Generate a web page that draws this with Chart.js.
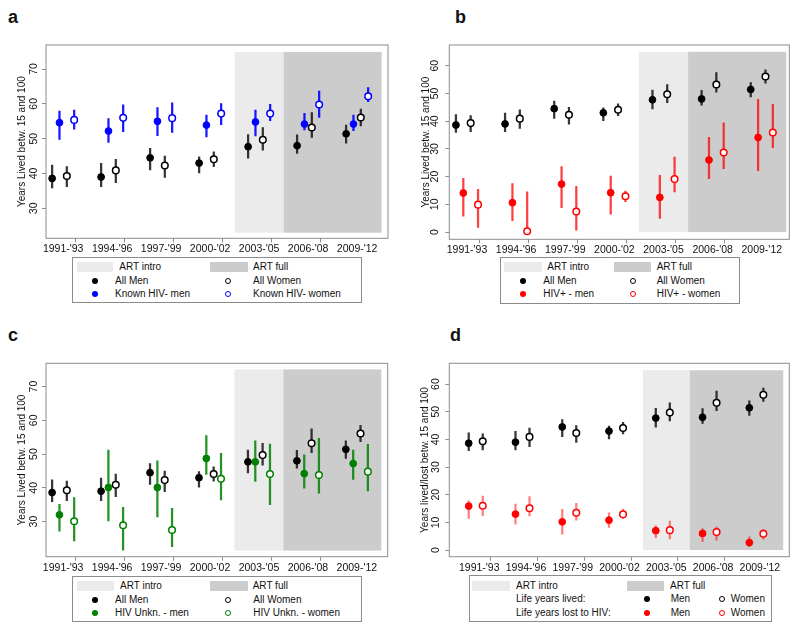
<!DOCTYPE html>
<html><head><meta charset="utf-8">
<script src="https://cdn.jsdelivr.net/npm/chart.js@4/dist/chart.umd.min.js"></script>
<style>
html,body{margin:0;padding:0;background:#fff;}
body{width:800px;height:631px;position:relative;overflow:hidden;font-family:"Liberation Sans",Arial,sans-serif;}
canvas{position:absolute;}
.lbl{position:absolute;font-weight:bold;font-size:18px;line-height:18px;color:#111;}
.leg{position:absolute;border:1px solid #8c8c8c;box-sizing:border-box;}
.lt{position:absolute;font-size:10px;line-height:12px;color:#111;white-space:nowrap;}
.sw{position:absolute;height:10px;}
.mk{position:absolute;border-radius:50%;box-sizing:border-box;}
</style></head><body>
<div class="lbl" style="left:8px;top:8px">a</div>
<div class="lbl" style="left:455px;top:8px">b</div>
<div class="lbl" style="left:8px;top:326px">c</div>
<div class="lbl" style="left:450px;top:326px">d</div>
<script>
// ---------- data ----------
const categories = ["1991-'93", "1994-'96", "1997-'99", "2000-'02", "2003-'05", "2006-'08", "2009-'12"];
const yTicksHigh = [30, 40, 50, 60, 70];
const yTicksLow = [0, 10, 20, 30, 40, 50, 60];
const artIntro = [3.5, 4.5];
const artFull = [4.5, 6.5];

const allMen     = [38.6, 39.0, 44.5, 43.0, 47.7, 48.0, 51.4];
const allMenLo   = [35.9, 36.2, 41.0, 40.2, 44.4, 45.8, 48.7];
const allMenHi   = [42.4, 42.9, 47.2, 44.8, 51.2, 51.1, 53.9];
const allWomen   = [39.3, 40.9, 42.3, 44.1, 49.7, 53.2, 56.1];
const allWomenLo = [36.2, 37.4, 38.9, 42.0, 46.7, 50.4, 53.7];
const allWomenHi = [42.0, 44.1, 45.0, 46.2, 53.2, 57.5, 58.5];

const negMen     = [54.6, 52.2, 55.0, 53.9, 54.8, 54.2, 54.2];
const negMenLo   = [49.8, 48.9, 50.9, 50.5, 50.8, 52.5, 52.3];
const negMenHi   = [57.9, 55.8, 58.9, 56.8, 58.2, 57.3, 56.8];
const negWomen   = [55.4, 56.0, 55.9, 57.2, 57.2, 59.8, 62.2];
const negWomenLo = [52.7, 52.0, 51.8, 54.0, 55.2, 56.1, 60.6];
const negWomenHi = [58.2, 59.7, 60.3, 60.1, 59.9, 63.7, 64.7];

const posMen     = [14.1, 10.6, 17.3, 14.2, 12.5, 26.0, 34.1];
const posMenLo   = [5.7, 4.1, 8.8, 6.5, 4.9, 19.3, 22.1];
const posMenHi   = [19.4, 17.5, 23.6, 20.2, 20.5, 34.2, 47.9];
const posWomen   = [9.9, 0.3, 7.4, 12.9, 19.1, 28.7, 35.9];
const posWomenLo = [1.7, 0.0, 0.7, 11.0, 14.5, 22.9, 30.4];
const posWomenHi = [15.4, 14.5, 16.5, 14.8, 27.0, 39.4, 46.1];

const unkMen     = [32.0, 40.1, 40.1, 48.7, 47.7, 44.2, 47.2];
const unkMenLo   = [27.2, 30.2, 31.4, 44.0, 41.9, 39.9, 42.5];
const unkMenHi   = [35.1, 51.2, 48.0, 55.5, 53.9, 49.8, 51.2];
const unkWomen   = [30.1, 28.9, 27.5, 42.7, 44.1, 43.8, 44.8];
const unkWomenLo = [24.3, 21.5, 22.6, 36.4, 35.0, 38.4, 39.1];
const unkWomenHi = [37.1, 34.2, 33.9, 50.2, 53.0, 54.7, 52.9];

const lostMen     = [15.9, 13.0, 10.2, 10.8, 7.0, 6.0, 2.7];
const lostMenLo   = [11.4, 9.4, 5.7, 8.2, 4.5, 3.0, 1.2];
const lostMenHi   = [17.8, 16.6, 14.7, 13.5, 8.8, 7.8, 4.8];
const lostWomen   = [16.0, 15.1, 13.5, 12.9, 7.2, 6.5, 5.9];
const lostWomenLo = [12.4, 12.3, 10.8, 11.4, 4.0, 3.6, 3.9];
const lostWomenHi = [19.5, 19.3, 16.9, 14.8, 10.5, 8.4, 7.5];

// ---------- styles ----------
const FONT = '"Liberation Sans", Arial, sans-serif';
Chart.defaults.font.family = FONT;
const LIGHT = '#ebebeb', DARK = '#cccccc';
const C = {
  black: '#000000', blue: '#0000ff', red: '#ff0000', green: '#008000',
  eBlack: 'rgba(20,20,20,0.85)', eBlue: 'rgba(0,0,255,0.9)', eRed: 'rgba(255,0,0,0.75)',
  eRedLight: 'rgba(255,0,0,0.5)', eGreen: 'rgba(0,128,0,0.85)'
};
const OFF = [-0.225, -0.075, 0.075, 0.225];

function errBars(lo, hi, off, color) {
  return {
    type: 'bar', order: 2, grouped: false, barThickness: 1.6, maxBarThickness: 1.6,
    backgroundColor: color, borderWidth: 0,
    data: categories.map((c, i) => ({ x: i + off, y: [lo[i], hi[i]] }))
  };
}
function pts(vals, off, color, open) {
  return {
    type: 'scatter', order: 1, showLine: false,
    pointRadius: open ? 3.3 : 3.4,
    pointBorderWidth: open ? 1.5 : 1,
    pointBackgroundColor: open ? '#ffffff' : color,
    pointBorderColor: color,
    data: vals.map((v, i) => ({ x: i + off, y: v }))
  };
}
function isMid(ctx) {
  return !!(ctx && ctx.tick && !Number.isInteger(ctx.tick.value));
}

function panel(o) {
  const cv = document.createElement('canvas');
  cv.width = o.w; cv.height = o.h;
  cv.style.left = o.left + 'px'; cv.style.top = o.top + 'px';
  cv.style.width = o.w + 'px'; cv.style.height = o.h + 'px';
  document.body.appendChild(cv);
  const shade = {
    id: 'shade',
    beforeDatasetsDraw(chart) {
      const { ctx, scales: { x, y } } = chart;
      [[artIntro, LIGHT], [artFull, DARK]].forEach(([r, col]) => {
        const x0 = x.getPixelForValue(r[0]), x1 = x.getPixelForValue(r[1]);
        const y0 = y.getPixelForValue(o.shadeY[1]), y1 = y.getPixelForValue(o.shadeY[0]);
        ctx.save(); ctx.fillStyle = col; ctx.fillRect(x0, y0, x1 - x0, y1 - y0); ctx.restore();
      });
    }
  };
  const frame = {
    id: 'frame',
    afterDraw(chart) {
      const a = chart.chartArea, ctx = chart.ctx;
      ctx.save(); ctx.strokeStyle = '#8c8c8c'; ctx.lineWidth = 1;
      ctx.strokeRect(a.left, a.top, a.right - a.left, a.bottom - a.top); ctx.restore();
    }
  };
  const xVals = [];
  for (let i = 0; i < categories.length; i++) { xVals.push(i); if (i < categories.length - 1) xVals.push(i + 0.5); }
  try {
  new Chart(cv, {
    type: 'scatter',
    data: { datasets: o.datasets },
    plugins: [shade, frame],
    options: {
      responsive: false, animation: false, devicePixelRatio: 1,
      layout: { padding: { left: 0, top: o.area.t, right: o.w - o.area.r, bottom: 0 } },
      plugins: { legend: { display: false }, tooltip: { enabled: false } },
      scales: {
        x: {
          type: 'linear', min: o.xr[0], max: o.xr[1], offset: false,
          afterBuildTicks: s => { s.ticks = xVals.map(v => ({ value: v })); },
          afterFit: s => { s.height = o.h - o.area.b; },
          ticks: {
            autoSkip: false, maxRotation: 0, minRotation: 0, padding: 2,
            font: { size: 10.5, lineHeight: 1 }, color: '#111',
            callback: v => Number.isInteger(v) ? categories[v] : ''
          },
          grid: {
            drawOnChartArea: false, drawTicks: true, tickLength: 4, tickWidth: 1,
            tickColor: ctx => isMid(ctx) ? '#8c8c8c' : 'rgba(0,0,0,0)'
          },
          border: { display: false }
        },
        y: {
          type: 'linear', min: o.yr[0], max: o.yr[1],
          afterBuildTicks: s => { s.ticks = o.yTicks.map(v => ({ value: v })); },
          afterFit: s => { s.width = o.area.l; },
          ticks: {
            minRotation: 90, maxRotation: 90, crossAlign: 'center', padding: o.yPad,
            font: { size: 10.5 }, color: '#111'
          },
          grid: { drawOnChartArea: false, drawTicks: true, tickLength: 4, tickColor: '#8c8c8c' },
          border: { display: false },
          title: {
            display: true, text: o.title, color: '#111',
            font: { size: 10 }, padding: { top: o.titlePad, bottom: 0 }
          }
        }
      }
    }
  });
  } catch (e) { console.error(e); }
}

const TITLE = 'Years Lived betw. 15 and 100';

panel({
  left: 0, top: 0, w: 400, h: 256, area: { l: 46, t: 45, r: 388, b: 238.3 },
  xr: [-0.35, 6.63], yr: [21.4, 76.9], yTicks: yTicksHigh, yPad: 2.5, titlePad: 16.5,
  title: TITLE, shadeY: [23.0, 74.9],
  datasets: [
    errBars(allMenLo, allMenHi, OFF[0], C.eBlack),
    errBars(negMenLo, negMenHi, OFF[1], C.eBlue),
    errBars(allWomenLo, allWomenHi, OFF[2], C.eBlack),
    errBars(negWomenLo, negWomenHi, OFF[3], C.eBlue),
    pts(allMen, OFF[0], C.black, false),
    pts(negMen, OFF[1], C.blue, false),
    pts(allWomen, OFF[2], C.black, true),
    pts(negWomen, OFF[3], C.blue, true)
  ]
});
panel({
  left: 400, top: 0, w: 400, h: 256, area: { l: 49.3, t: 45, r: 389.3, b: 239.3 },
  xr: [-0.36, 6.56], yr: [-2.6, 67.45], yTicks: yTicksLow, yPad: 4.5, titlePad: 20,
  title: TITLE, shadeY: [0, 65],
  datasets: [
    errBars(allMenLo, allMenHi, OFF[0], C.eBlack),
    errBars(posMenLo, posMenHi, OFF[1], C.eRed),
    errBars(allWomenLo, allWomenHi, OFF[2], C.eBlack),
    errBars(posWomenLo, posWomenHi, OFF[3], C.eRed),
    pts(allMen, OFF[0], C.black, false),
    pts(posMen, OFF[1], C.red, false),
    pts(allWomen, OFF[2], C.black, true),
    pts(posWomen, OFF[3], C.red, true)
  ]
});
panel({
  left: 0, top: 310, w: 400, h: 262, area: { l: 46, t: 53.3, r: 387.7, b: 246.7 },
  xr: [-0.35, 6.63], yr: [19.6, 76.9], yTicks: yTicksHigh, yPad: 2.5, titlePad: 16.5,
  title: TITLE, shadeY: [21.4, 75.1],
  datasets: [
    errBars(allMenLo, allMenHi, OFF[0], C.eBlack),
    errBars(unkMenLo, unkMenHi, OFF[1], C.eGreen),
    errBars(allWomenLo, allWomenHi, OFF[2], C.eBlack),
    errBars(unkWomenLo, unkWomenHi, OFF[3], C.eGreen),
    pts(allMen, OFF[0], C.black, false),
    pts(unkMen, OFF[1], C.green, false),
    pts(allWomen, OFF[2], C.black, true),
    pts(unkWomen, OFF[3], C.green, true)
  ]
});
panel({
  left: 400, top: 310, w: 400, h: 262, area: { l: 49.3, t: 53.3, r: 389.3, b: 246.7 },
  xr: [-0.64, 6.63], yr: [-2.4, 67.5], yTicks: yTicksLow, yPad: 3.6, titlePad: 19,
  title: 'Years lived/lost betw. 15 and 100', shadeY: [0, 65],
  datasets: [
    errBars(allMenLo, allMenHi, OFF[0], C.eBlack),
    errBars(allWomenLo, allWomenHi, OFF[2], C.eBlack),
    errBars(lostMenLo, lostMenHi, OFF[0], C.eRedLight),
    errBars(lostWomenLo, lostWomenHi, OFF[2], C.eRedLight),
    pts(allMen, OFF[0], C.black, false),
    pts(allWomen, OFF[2], C.black, true),
    pts(lostMen, OFF[0], C.red, false),
    pts(lostWomen, OFF[2], C.red, true)
  ]
});

// ---------- legends (HTML) ----------
function el(cls, st, text) {
  const d = document.createElement('div');
  d.className = cls;
  for (const k in st) d.style[k] = typeof st[k] === 'number' ? st[k] + 'px' : st[k];
  if (text) d.textContent = text;
  document.body.appendChild(d);
}
function box(l, t, r, b) { el('leg', { left: l, top: t, width: r - l, height: b - t }); }
function txt(x, yc, s) { el('lt', { left: x, top: yc - 6 }, s); }
function sw(x0, x1, yc, col) { el('sw', { left: x0, top: yc - 5, width: x1 - x0, background: col }); }
function mk(xc, yc, col, open) {
  const s = 6;
  el('mk', { left: xc - s / 2, top: yc - s / 2, width: s, height: s,
    background: open ? '#fff' : col, border: open ? '1.4px solid ' + col : 'none' });
}
// Panel a legend
(function () {
  box(72, 257, 362, 303);
  const r = [267, 280.5, 294];
  sw(76.7, 113.3, r[0], LIGHT); txt(119.3, r[0], 'ART intro');
  sw(210, 247.7, r[0], DARK); txt(253, r[0], 'ART full');
  mk(95, r[1], C.black, false); txt(115, r[1], 'All Men');
  mk(228.3, r[1], C.black, true); txt(253, r[1], 'All Women');
  mk(95, r[2], C.blue, false); txt(115, r[2], 'Known HIV- men');
  mk(228.3, r[2], C.blue, true); txt(253, r[2], 'Known HIV- women');
})();
// Panel b legend
(function () {
  box(500, 257, 740, 304);
  const r = [267, 280.5, 294];
  sw(504.3, 541.7, r[0], LIGHT); txt(547.3, r[0], 'ART intro');
  sw(614, 651, r[0], DARK); txt(656.7, r[0], 'ART full');
  mk(523.3, r[1], C.black, false); txt(543.3, r[1], 'All Men');
  mk(632.7, r[1], C.black, true); txt(656.7, r[1], 'All Women');
  mk(523.3, r[2], C.red, false); txt(543.3, r[2], 'HIV+ - men');
  mk(632.7, r[2], C.red, true); txt(656.7, r[2], 'HIV+ - women');
})();
// Panel c legend
(function () {
  box(72, 575.7, 362, 622.3);
  const r = [586, 599.5, 613];
  sw(76.7, 114.3, r[0], LIGHT); txt(120, r[0], 'ART intro');
  sw(210, 247.7, r[0], DARK); txt(252.7, r[0], 'ART full');
  mk(95, r[1], C.black, false); txt(115, r[1], 'All Men');
  mk(228.3, r[1], C.black, true); txt(253.3, r[1], 'All Women');
  mk(95, r[2], C.green, false); txt(115, r[2], 'HIV Unkn. - men');
  mk(228.3, r[2], C.green, true); txt(253.3, r[2], 'HIV Unkn. - women');
})();
// Panel d legend
(function () {
  box(469, 575, 772.3, 622.3);
  const r = [585.5, 599.3, 612.7];
  sw(472.3, 510, r[0], LIGHT); txt(516, r[0], 'ART intro');
  sw(626.7, 664, r[0], DARK); txt(670, r[0], 'ART full');
  txt(516, r[1], 'Life years lived:');
  mk(646.7, r[1], C.black, false); txt(670.7, r[1], 'Men');
  mk(721.7, r[1], C.black, true); txt(730.7, r[1], 'Women');
  txt(516, r[2], 'Life years lost to HIV:');
  mk(646.7, r[2], C.red, false); txt(670.7, r[2], 'Men');
  mk(721.7, r[2], C.red, true); txt(730.7, r[2], 'Women');
})();
</script>
</body></html>
